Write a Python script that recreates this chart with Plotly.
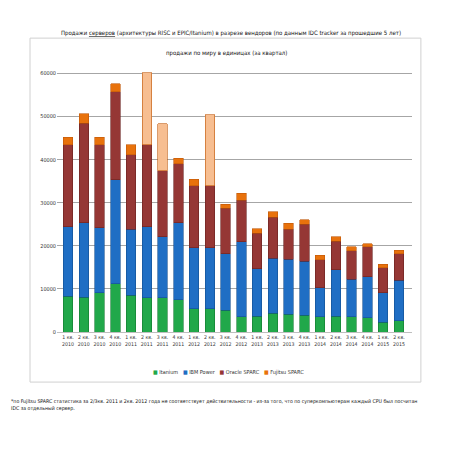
import plotly.graph_objects as go

# quarters shown on the x axis
quarters = ["1 кв.", "2 кв.", "3 кв.", "4 кв.",
            "1 кв.", "2 кв.", "3 кв.", "4 кв.",
            "1 кв.", "2 кв.", "3 кв.", "4 кв.",
            "1 кв.", "2 кв.", "3 кв.", "4 кв.",
            "1 кв.", "2 кв.", "3 кв.", "4 кв.",
            "1 кв.", "2 кв."]
years = ["2010"] * 4 + ["2011"] * 4 + ["2012"] * 4 + ["2013"] * 4 + ["2014"] * 4 + ["2015"] * 2

# units sold per quarter
itanium = [8300, 8100, 9100, 11200, 8500, 8000, 7900, 7500, 5400, 5400, 5000,
           3500, 3600, 4300, 4100, 3900, 3500, 3600, 3500, 3300, 2300, 2600]
ibm_power = [16100, 17300, 15100, 24100, 15300, 16400, 14200, 17900, 14100, 14100, 13200,
             17400, 11100, 12800, 12800, 12500, 6800, 10900, 8700, 9500, 6800, 9400]
oracle_sparc = [19000, 23000, 19200, 20500, 17300, 19000, 15300, 13600, 14500, 14400, 10500,
                9700, 8200, 9500, 7000, 8600, 6500, 6600, 6600, 7000, 5800, 6200]
fujitsu_sparc = [1800, 2200, 1800, 1800, 2300, 16800, 10900, 1300, 1400, 16500, 1000,
                 1600, 1100, 1300, 1300, 1000, 1000, 1000, 1000, 700, 800, 800]
# quarters where Fujitsu figures are doubtful (drawn pale)
fujitsu_doubtful = [False] * 5 + [True, True] + [False] * 2 + [True] + [False] * 12

y_ticks = [0, 10000, 20000, 30000, 40000, 50000, 60000]

FONT = "Liberation Sans Narrow, DejaVu Sans Condensed, Arial Narrow, sans-serif"

x = list(range(len(quarters)))
tick_text = [f"{q}<br>{y}" for q, y in zip(quarters, years)]

fuj_colors = ["#F7BE91" if d else "#E8720C" for d in fujitsu_doubtful]

fig = go.Figure()
series = [
    ("Itanium", itanium, "#21A84A", "#137A30"),
    ("IBM Power", ibm_power, "#1F6EC4", "#134E91"),
    ("Oracle SPARC", oracle_sparc, "#953735", "#6A2220"),
]
for name, vals, color, edge in series:
    fig.add_trace(go.Bar(
        x=x, y=vals, name=name,
        marker=dict(color=color, line=dict(color=edge, width=0.6)),
    ))
fig.add_trace(go.Bar(
    x=x, y=fujitsu_sparc, name="Fujitsu SPARC",
    marker=dict(color=fuj_colors, line=dict(color="#C0580A", width=0.6)),
))

# the page body adds an 8px margin, so the layout is shifted up-left by 8px
fig.update_layout(
    width=453, height=453,
    barmode="stack",
    bargap=0.4,
    paper_bgcolor="white",
    plot_bgcolor="white",
    margin=dict(l=49, r=49, t=59, b=129, autoexpand=False),
    font=dict(family=FONT, size=6, color="#333333"),
    showlegend=False,
)

fig.update_xaxes(
    tickmode="array", tickvals=x, ticktext=tick_text,
    tickfont=dict(size=5.2, color="#333333"), tickangle=0,
    showgrid=False, zeroline=False,
    showline=True, linecolor="#BFBFBF", linewidth=1,
    range=[-0.7, 21.83], automargin=False,
)
fig.update_yaxes(
    tickmode="array", tickvals=y_ticks, tickformat="d",
    tickfont=dict(size=5.5, color="#333333"),
    range=[0, 61500], automargin=False,
    showgrid=True, gridcolor="#A6A6A6", gridwidth=1,
    zeroline=False, showline=False, ticks="",
)

# outer chart box
fig.add_shape(type="rect", xref="paper", yref="paper",
              x0=-0.076, x1=1.025, y0=-0.189, y1=1.109,
              line=dict(color="#D0D0D0", width=1), fillcolor="rgba(0,0,0,0)",
              layer="below")

fig.add_annotation(
    text="Продажи <u>серверов</u> (архитектуры RISC и EPIC/Itanium) в разрезе вендоров (по данным IDC tracker за прошедшие 5 лет)",
    xref="paper", yref="paper", x=0.49, y=1.128, xanchor="center", yanchor="middle",
    showarrow=False, font=dict(size=6, color="#111111"),
)
fig.add_annotation(
    text="продажи по миру в единицах (за квартал)",
    xref="paper", yref="paper", x=0.477, y=1.053, xanchor="center", yanchor="middle",
    showarrow=False, font=dict(size=6, color="#111111"),
)

# legend row
legend_text = "   ".join(
    f"<span style='color:{c}'>■</span> {n}"
    for n, c in [("Itanium", "#21A84A"), ("IBM Power", "#1F6EC4"),
                 ("Oracle SPARC", "#953735"), ("Fujitsu SPARC", "#E8720C")]
)
fig.add_annotation(
    text=legend_text,
    xref="paper", yref="paper", x=0.482, y=-0.151, xanchor="center", yanchor="middle",
    showarrow=False, font=dict(size=5.5, color="#333333"),
)

fig.add_annotation(
    text="*по Fujitsu SPARC статистика за 2/3кв. 2011 и 2кв. 2012 года не соответствует действительности - из-за того, что по суперкомпьютерам каждый CPU был посчитан<br>IDC за отдельный сервер.",
    xref="paper", yref="paper", x=-0.135, y=-0.275, xanchor="left", yanchor="middle",
    align="left", showarrow=False, font=dict(size=5.2, color="#111111"),
)

fig.write_html("out.html")
